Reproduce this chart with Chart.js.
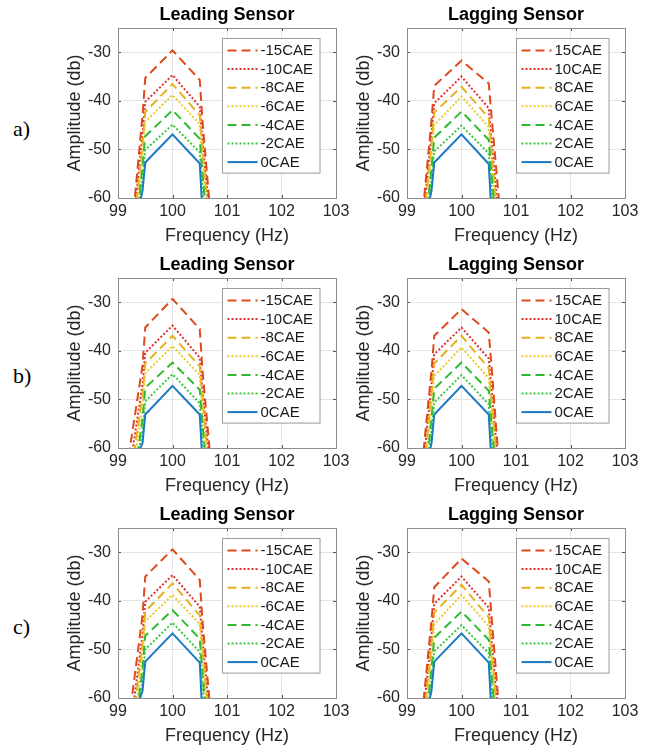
<!DOCTYPE html>
<html lang="en">
<head>
    <meta charset="UTF-8">
    <title>Leading / Lagging Sensor Spectra</title>
    <script src="https://cdn.jsdelivr.net/npm/chart.js@4.4.1/dist/chart.umd.min.js"></script>
    <style>
        body {
            margin: 0;
            background: #ffffff;
        }
        .figure {
            position: relative;
            width: 654px;
            height: 746px;
            background: #ffffff;
            overflow: hidden;
        }
        .figure canvas {
            position: absolute;
        }
        .row-label {
            position: absolute;
            left: 13px;
            font-family: "Liberation Serif", "Times New Roman", serif;
            font-size: 22px;
            color: #000;
            line-height: 22px;
        }
    </style>
</head>
<body>
    <div class="figure">
        <div class="row-label" style="top: 118px;">a)</div>
        <div class="row-label" style="top: 365px;">b)</div>
        <div class="row-label" style="top: 616px;">c)</div>

        <canvas id="leadA" width="300" height="250" style="left: 56px; top: 0px;"></canvas>
        <canvas id="lagA" width="300" height="250" style="left: 345px; top: 0px;"></canvas>
        <canvas id="leadB" width="300" height="250" style="left: 56px; top: 250px;"></canvas>
        <canvas id="lagB" width="300" height="250" style="left: 345px; top: 250px;"></canvas>
        <canvas id="leadC" width="300" height="250" style="left: 56px; top: 500px;"></canvas>
        <canvas id="lagC" width="300" height="250" style="left: 345px; top: 500px;"></canvas>
    </div>

    <script>
        // Frequency bins (Hz) shared by every spectrum
        const freqHz = [99.0, 99.45, 99.5, 100.0, 100.5, 100.55, 101.0];

        // Axis ticks
        const xTicks = [99, 100, 101, 102, 103];
        const yTicks = [-60, -50, -40, -30];

        // Legend labels for each sensor
        const leadLabels = ['-15CAE', '-10CAE', '-8CAE', '-6CAE', '-4CAE', '-2CAE', '0CAE'];
        const lagLabels = ['15CAE', '10CAE', '8CAE', '6CAE', '4CAE', '2CAE', '0CAE'];

        // Amplitudes (db), one row per CAE setting, in legend order
        const leadA = [
            [-97, -43, -35.3, -29.6, -35.7, -44, -104],
            [-96, -47, -40.2, -34.7, -41.2, -48, -102],
            [-98, -49, -42.3, -36.5, -43.0, -50, -106],
            [-101, -51, -44.3, -38.8, -44.8, -52, -110],
            [-102, -53.5, -47.3, -41.9, -47.8, -55, -110],
            [-92, -56, -50.1, -44.9, -50.6, -57.5, -112],
            [-82, -58.5, -52.7, -46.9, -52.9, -63, -100]
        ];
        const lagA = [
            [-97, -44, -36.9, -31.7, -36.4, -43, -100],
            [-96, -47, -40.5, -35.0, -41.5, -48, -102],
            [-98, -49, -42.4, -37.1, -43.5, -50, -106],
            [-101, -51.5, -45.0, -39.1, -45.4, -52, -110],
            [-102, -54, -47.6, -42.2, -48.0, -55, -110],
            [-92, -56.5, -50.4, -45.1, -50.8, -57.5, -112],
            [-82, -58.5, -52.7, -46.9, -53.0, -63, -100]
        ];
        const leadB = [
            [-76, -43, -35.2, -29.3, -35.5, -44, -100],
            [-80, -47, -40.4, -34.8, -41.4, -48, -100],
            [-84, -49, -42.6, -36.9, -43.2, -50, -104],
            [-88, -51, -44.6, -39.0, -45.0, -52, -108],
            [-90, -54, -47.6, -42.4, -48.0, -55, -110],
            [-82, -56.5, -50.4, -44.8, -50.8, -57.5, -112],
            [-70, -59, -53.1, -47.2, -53.1, -63, -100]
        ];
        const lagB = [
            [-95, -44, -36.9, -31.4, -36.2, -43, -110],
            [-96, -47, -40.7, -35.2, -41.6, -48, -104],
            [-98, -49, -42.6, -36.9, -43.6, -50, -106],
            [-100, -51.5, -45.2, -39.3, -45.6, -52, -110],
            [-102, -54, -47.8, -42.4, -48.2, -55, -110],
            [-92, -56.5, -50.6, -45.0, -51.0, -57.5, -112],
            [-82, -59, -53.1, -47.2, -53.1, -63, -100]
        ];
        const leadC = [
            [-82, -43, -35.0, -29.4, -35.7, -44, -102],
            [-86, -47, -40.2, -34.7, -41.2, -48, -102],
            [-90, -49, -42.2, -36.4, -43.0, -50, -106],
            [-92, -51, -44.2, -38.8, -44.8, -52, -110],
            [-94, -54, -47.2, -41.9, -47.8, -55, -110],
            [-86, -56.5, -50.0, -44.5, -50.5, -57.5, -112],
            [-74, -58.5, -52.5, -46.7, -52.7, -64, -100]
        ];
        const lagC = [
            [-95, -44, -37.2, -31.3, -36.0, -43, -106],
            [-96, -47, -40.6, -35.0, -41.4, -48, -104],
            [-98, -49, -42.4, -36.7, -43.4, -50, -106],
            [-100, -51.5, -44.8, -38.8, -45.2, -52, -110],
            [-102, -54, -47.6, -42.2, -48.0, -55, -110],
            [-92, -56.5, -50.4, -45.0, -50.8, -57.5, -112],
            [-82, -58.5, -52.5, -46.7, -52.7, -63, -100]
        ];

        // Line styles per CAE setting
        const lineColors = ['#DE4A1C', '#E0302E', '#E6B11E', '#EACB2A', '#2EBA2E', '#3CC83C', '#1A78C2'];
        const lineDashes = [[9, 5], [2, 2], [9, 5], [2, 2], [9, 5], [2, 2], []];

        const FONT = '"Liberation Sans", Arial, Helvetica, sans-serif';
        Chart.defaults.font.family = FONT;
        Chart.defaults.color = '#262626';

        // Panel title, axes box, inward tick marks and an in-plot legend
        const axesFrame = {
            id: 'axesFrame',
            afterDraw(chart, args, opts) {
                const ctx = chart.ctx;
                const a = chart.chartArea;
                const xs = chart.scales.x;
                const ys = chart.scales.y;
                ctx.save();

                // title, centred over the plot area
                ctx.font = 'bold 18px ' + FONT;
                ctx.fillStyle = '#000';
                ctx.textAlign = 'center';
                ctx.textBaseline = 'middle';
                ctx.fillText(opts.title, (a.left + a.right) / 2, a.top - 13);

                // tick marks
                ctx.strokeStyle = '#555';
                ctx.lineWidth = 1;
                ctx.beginPath();
                xTicks.forEach(v => {
                    const px = Math.round(xs.getPixelForValue(v)) + 0.5;
                    ctx.moveTo(px, a.bottom); ctx.lineTo(px, a.bottom - 3);
                    ctx.moveTo(px, a.top); ctx.lineTo(px, a.top + 3);
                });
                yTicks.forEach(v => {
                    const py = Math.round(ys.getPixelForValue(v)) + 0.5;
                    ctx.moveTo(a.left, py); ctx.lineTo(a.left + 3, py);
                    ctx.moveTo(a.right, py); ctx.lineTo(a.right - 3, py);
                });
                ctx.stroke();

                // box
                ctx.strokeStyle = '#8c8c8c';
                ctx.strokeRect(Math.round(a.left) + 0.5, Math.round(a.top) + 0.5,
                    Math.round(a.right - a.left), Math.round(a.bottom - a.top));

                // legend
                const sets = chart.data.datasets;
                ctx.font = '15px ' + FONT;
                let textW = 0;
                sets.forEach(d => { textW = Math.max(textW, ctx.measureText(d.label).width); });
                const sample = 30;
                const w = 5 + sample + 3 + textW + 7;
                const rowH = 18.6;
                const h = 12 + rowH * (sets.length - 1) + 11;
                const bx = Math.round(a.right - 16 - w) + 0.5;
                const by = Math.round(a.top + 10) + 0.5;
                ctx.fillStyle = '#ffffff';
                ctx.fillRect(bx, by, w, h);
                ctx.strokeStyle = '#9a9a9a';
                ctx.lineWidth = 1;
                ctx.setLineDash([]);
                ctx.strokeRect(bx, by, w, h);

                sets.forEach((d, i) => {
                    const cy = by + 12 + rowH * i;
                    ctx.beginPath();
                    ctx.strokeStyle = d.borderColor;
                    ctx.lineWidth = d.borderWidth;
                    ctx.setLineDash(d.borderDash);
                    ctx.moveTo(bx + 5, cy);
                    ctx.lineTo(bx + 5 + sample, cy);
                    ctx.stroke();
                    ctx.setLineDash([]);
                    ctx.fillStyle = '#1a1a1a';
                    ctx.textBaseline = 'middle';
                    ctx.textAlign = 'left';
                    ctx.fillText(d.label, bx + 5 + sample + 3, cy + 0.5);
                });
                ctx.restore();
            }
        };

        function makePanel(id, title, labels, rows) {
            const datasets = rows.map((vals, i) => ({
                label: labels[i],
                data: freqHz.map((f, k) => ({ x: f, y: vals[k] })),
                borderColor: lineColors[i],
                borderDash: lineDashes[i],
                borderWidth: 2,
                pointRadius: 0,
                tension: 0,
                fill: false,
                clip: 0,
                order: rows.length - i
            }));

            return new Chart(document.getElementById(id), {
                type: 'line',
                data: { datasets },
                options: {
                    responsive: false,
                    animation: false,
                    layout: { padding: { left: 0, right: 20, top: 28, bottom: 0 } },
                    plugins: {
                        legend: { display: false },
                        tooltip: { enabled: false },
                        title: { display: false },
                        axesFrame: { title: title }
                    },
                    scales: {
                        x: {
                            type: 'linear',
                            min: 99,
                            max: 103,
                            afterBuildTicks: s => { s.ticks = xTicks.map(v => ({ value: v })); },
                            afterFit: s => { s.height = 52; },
                            grid: { color: '#e4e4e4', drawTicks: false },
                            border: { display: false },
                            ticks: { font: { size: 16 }, padding: 4, maxRotation: 0 },
                            title: {
                                display: true,
                                text: 'Frequency (Hz)',
                                font: { size: 18 },
                                padding: { top: 0, bottom: 3 }
                            }
                        },
                        y: {
                            type: 'linear',
                            min: -60,
                            max: -25,
                            afterBuildTicks: s => { s.ticks = yTicks.map(v => ({ value: v })); },
                            afterFit: s => { s.width = 62; },
                            grid: { color: '#e4e4e4', drawTicks: false },
                            border: { display: false },
                            ticks: { font: { size: 16 }, padding: 7 },
                            title: {
                                display: true,
                                text: 'Amplitude (db)',
                                font: { size: 18 },
                                padding: { top: 8, bottom: 0 }
                            }
                        }
                    }
                },
                plugins: [axesFrame]
            });
        }

        makePanel('leadA', 'Leading Sensor', leadLabels, leadA);
        makePanel('lagA', 'Lagging Sensor', lagLabels, lagA);
        makePanel('leadB', 'Leading Sensor', leadLabels, leadB);
        makePanel('lagB', 'Lagging Sensor', lagLabels, lagB);
        makePanel('leadC', 'Leading Sensor', leadLabels, leadC);
        makePanel('lagC', 'Lagging Sensor', lagLabels, lagC);
    </script>
</body>
</html>
